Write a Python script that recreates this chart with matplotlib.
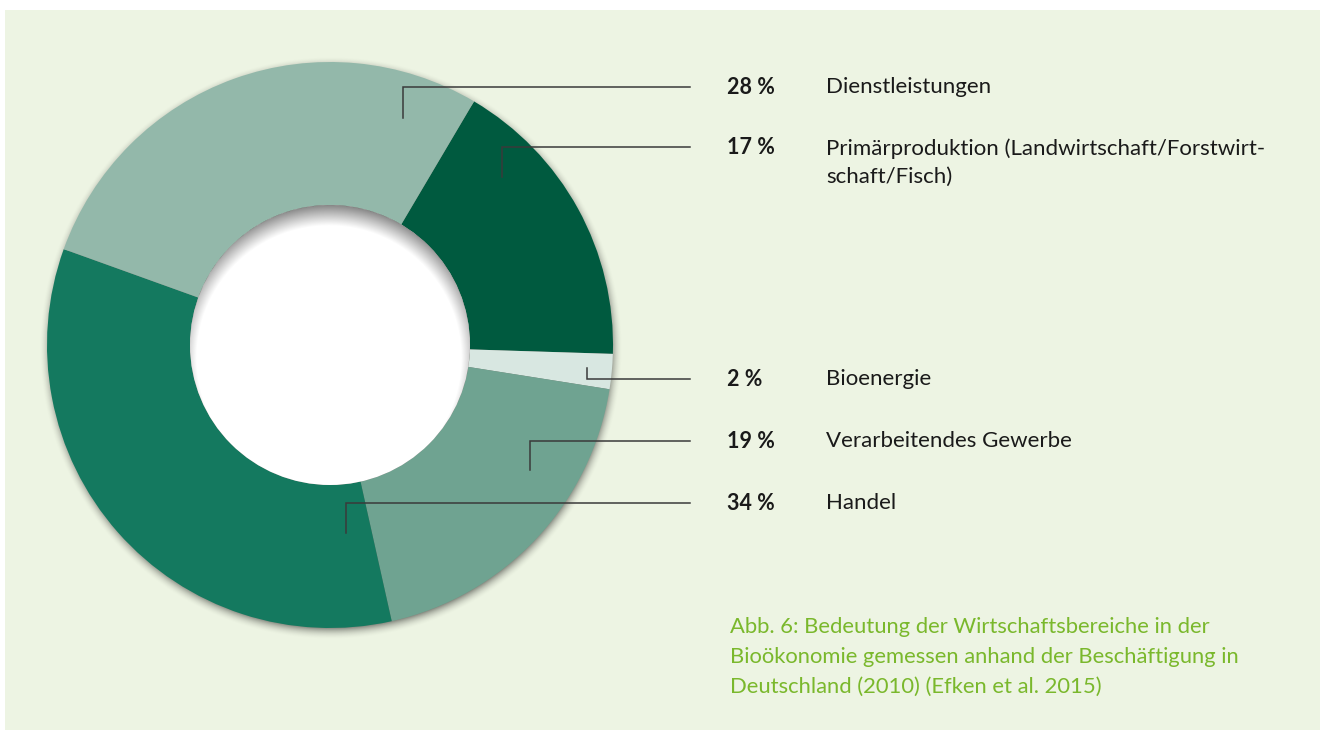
import matplotlib
matplotlib.use("Agg")
import matplotlib.pyplot as plt
from matplotlib.patches import Rectangle, Circle
import numpy as np

plt.rcParams['font.family'] = ['Lato', 'DejaVu Sans']

# data (clockwise from the top right)
labels = ['Primärproduktion (Landwirtschaft/Forstwirt-\nschaft/Fisch)',
          'Bioenergie', 'Verarbeitendes Gewerbe', 'Handel', 'Dienstleistungen']
shares = [17, 2, 19, 34, 28]
colors = ['#005a3f', '#d8e7e1', '#6fa391', '#14795f', '#93b8aa']
caption = ('Abb. 6: Bedeutung der Wirtschaftsbereiche in der\n'
           'Bioökonomie gemessen anhand der Beschäftigung in\n'
           'Deutschland (2010) (Efken et al. 2015)')

# layout in pixels (y from top)
W, H = 1320, 731
cx, cy = 330, H - 345
R, r_in = 283, 140
# leader anchor inside the wedge and row height of the label
anchors = [(502, 177), (587, 368), (530, 470), (346, 533), (403, 118)]
rows = [147, 379, 441, 503, 87]
line_end = 690
x_pct, x_lab = 727, 826

fig = plt.figure(figsize=(W / 100, H / 100), dpi=100, facecolor='white')
ax = fig.add_axes([0, 0, 1, 1])

ax.add_patch(Rectangle((5, 1), W - 5, H - 11, facecolor='#edf4e3', edgecolor='none', zorder=0))

# soft drop shadow around the ring
yy, xx = np.mgrid[0:H, 0:W] + 0.5
d_out = np.hypot(xx - cx - 1, yy - (cy - 3))
a_out = 0.5 * np.clip(1 - (d_out - (R - 4)) / 13, 0, 1) ** 2
img = np.zeros((H, W, 4))
img[..., 3] = a_out
ax.imshow(img, extent=(0, W, 0, H), origin='lower', zorder=1, interpolation='bilinear')

ax.pie(shares, colors=colors, startangle=59.4, counterclock=False, radius=R,
       center=(cx, cy), wedgeprops=dict(width=R - r_in, edgecolor='none', zorder=2))

# white hole with inner shadow at the top
ax.add_patch(Circle((cx, cy), r_in, facecolor='white', edgecolor='none', zorder=3))
d0 = np.hypot(xx - cx, yy - cy)
d2 = np.hypot(xx - cx + 1, yy - (cy - 13))
a_in = 0.55 * np.clip((d2 - (r_in - 8)) / 24, 0, 1) ** 1.1
a_in = a_in * np.clip(r_in - d0 + 0.5, 0, 1)
img2 = np.zeros((H, W, 4))
img2[..., 3] = a_in
ax.imshow(img2, extent=(0, W, 0, H), origin='lower', zorder=4, interpolation='bilinear')

for (axx, ayy), ry in zip(anchors, rows):
    ax.plot([axx, axx, line_end], [H - ayy, H - ry, H - ry], color='#3a3a3a',
            lw=1.1, solid_joinstyle='miter', zorder=5)

for lab, val, ry in zip(labels, shares, rows):
    ax.text(x_pct, H - ry, f'{val} %', fontsize=15.5, fontweight='bold',
            color='#1a1a1a', va='center', ha='left', zorder=6)
    n = lab.count('\n')
    ax.text(x_lab, H - ry - n * 15.5, lab, fontsize=16, color='#1a1a1a',
            va='center', ha='left', linespacing=1.5, zorder=6)

ax.text(730, H - 657, caption, fontsize=15.8, color='#7ab82c', va='center', ha='left',
        linespacing=1.62, zorder=6)

ax.set_xlim(0, W)
ax.set_ylim(0, H)
ax.set_aspect('auto')
ax.set_axis_off()
fig.savefig('out.png', dpi=100, facecolor='white')
